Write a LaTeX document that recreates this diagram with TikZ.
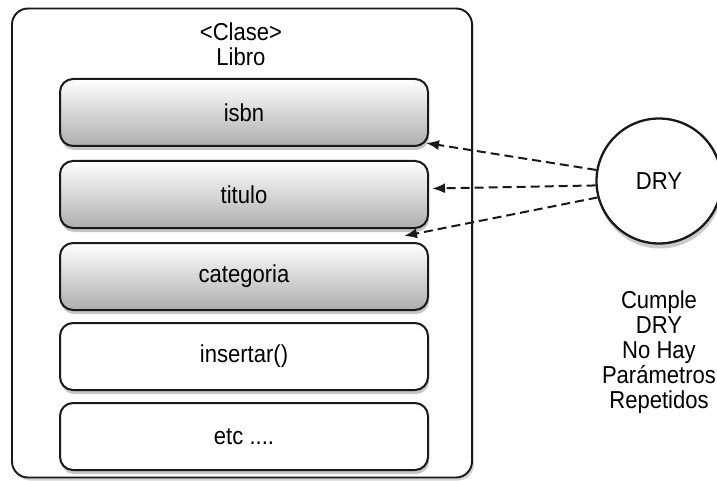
\documentclass[tikz,border=0pt]{standalone}
\usepackage{fontspec}
\setmainfont{Liberation Sans}[FakeStretch=0.9]
\usetikzlibrary{shadows,arrows.meta}
\begin{document}
\begin{tikzpicture}[x=1pt,y=-1pt,
  lbl/.style={font=\fontsize{24.5}{25}\selectfont,text=black},
  outerbox/.style={draw=black!90,line width=1.9pt,rounded corners=16pt,fill=white,
     drop shadow={shadow xshift=2pt,shadow yshift=-3pt,opacity=0.35}},
  attrbox/.style={draw=black!90,line width=2pt,rounded corners=13pt,minimum width=368pt,minimum height=67pt,
     top color=white,bottom color=black!32,lbl,
     drop shadow={shadow xshift=1pt,shadow yshift=-4pt,opacity=0.45}},
  methbox/.style={draw=black!90,line width=2pt,rounded corners=13pt,minimum width=368pt,minimum height=67pt,
     fill=white,lbl,
     drop shadow={shadow xshift=1pt,shadow yshift=-4pt,opacity=0.45}},
  drycircle/.style={circle,draw=black!90,line width=2.3pt,fill=white,minimum size=125pt,inner sep=0pt,lbl,
     drop shadow={shadow xshift=1pt,shadow yshift=-5pt,opacity=0.4}},
  dep/.style={-{Latex[length=13pt,width=10pt]},line width=2pt,dash pattern=on 9pt off 5pt,black!90}]
\useasboundingbox (0,0) rectangle (717,481);
\node[outerbox,minimum width=460pt,minimum height=469pt] (clase) at (242,243) {};
\node[lbl,align=center] (titulo-clase) at (241,44) {<Clase>\\Libro};
\node[attrbox] (isbn) at (244,112.5) {isbn};
\node[attrbox] (titulo) at (244,194.5) {titulo};
\node[attrbox] (categoria) at (244,276.5) {categoria};
\node[methbox] (insertar) at (244,356.5) {insertar()};
\node[methbox] (etc) at (244,436.5) {etc ....};
\node[drycircle] (dry) at (659,181) {DRY};
\node[lbl,align=center] (nota) at (659,352) {Cumple\\DRY\\No Hay\\Parámetros\\Repetidos};
\draw[dep] (dry.170) -- ([shift={(-3,-4)}]isbn.south east);
\draw[dep] (dry.184) -- ([shift={(3,-6)}]titulo.east);
\draw[dep] (dry.195) -- ([shift={(-25,-6)}]categoria.north east);
\end{tikzpicture}
\end{document}
